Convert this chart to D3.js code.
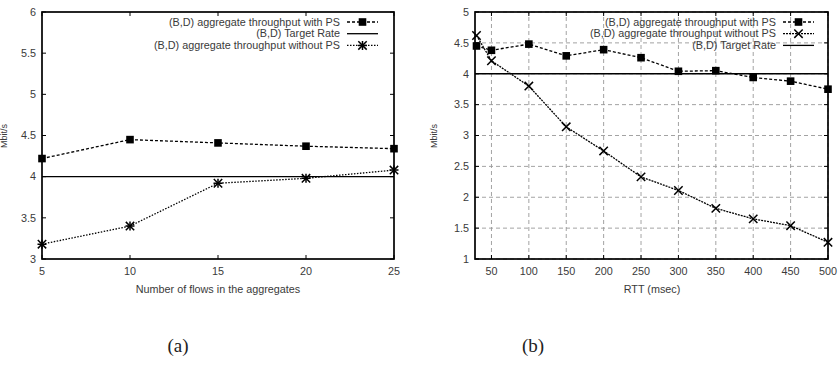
<!DOCTYPE html>
<html>
<head>
<meta charset="utf-8">
<script src="https://cdn.jsdelivr.net/npm/d3@7"></script>
<style>
  body { margin: 0; background: #fff; }
  svg text { font-family: "Liberation Sans", Arial, sans-serif; fill: #3a3a3a; }
  .caption { font-family: "Liberation Serif", serif; fill: #222; }
</style>
</head>
<body>
<svg id="chart" width="839" height="372"></svg>
<script>
// panel (a): throughput vs number of flows
const flows = [5, 10, 15, 20, 25];
const flowsWithPS = [4.22, 4.45, 4.41, 4.37, 4.34];
const flowsWithoutPS = [3.18, 3.40, 3.92, 3.98, 4.08];
const flowsYTicks = [3, 3.5, 4, 4.5, 5, 5.5, 6];

// panel (b): throughput vs RTT
const rtt = [30, 50, 100, 150, 200, 250, 300, 350, 400, 450, 500];
const rttWithPS = [4.45, 4.38, 4.48, 4.29, 4.39, 4.26, 4.04, 4.05, 3.94, 3.88, 3.75];
const rttWithoutPS = [4.62, 4.21, 3.80, 3.14, 2.75, 2.33, 2.11, 1.82, 1.65, 1.54, 1.27];
const rttXTicks = [50, 100, 150, 200, 250, 300, 350, 400, 450, 500];
const rttYTicks = [1, 1.5, 2, 2.5, 3, 3.5, 4, 4.5, 5];

const TARGET_RATE = 4;
const LABEL_WITH = "(B,D) aggregate throughput with PS";
const LABEL_WITHOUT = "(B,D) aggregate throughput without PS";
const LABEL_TARGET = "(B,D) Target Rate";
const FONT = 10.8;

const svg = d3.select("#chart");

// gnuplot style: ticks inward on all four sides
const drawFrame = (g, x, y, xTicks, yTicks) => {
    const [x0, x1] = x.range();
    const [y0, y1] = y.range();
    const tick = 4;
    yTicks.forEach(v => {
        g.append("line").attr("x1", x0).attr("x2", x0 + tick).attr("y1", y(v)).attr("y2", y(v)).attr("stroke", "#000");
        g.append("line").attr("x1", x1).attr("x2", x1 - tick).attr("y1", y(v)).attr("y2", y(v)).attr("stroke", "#000");
        g.append("text").attr("x", x0 - 6).attr("y", y(v)).attr("dy", "0.35em")
            .attr("text-anchor", "end").attr("font-size", FONT).text(v);
    });
    xTicks.forEach(v => {
        g.append("line").attr("x1", x(v)).attr("x2", x(v)).attr("y1", y0).attr("y2", y0 - tick).attr("stroke", "#000");
        g.append("line").attr("x1", x(v)).attr("x2", x(v)).attr("y1", y1).attr("y2", y1 + tick).attr("stroke", "#000");
        g.append("text").attr("x", x(v)).attr("y", y0 + 16)
            .attr("text-anchor", "middle").attr("font-size", FONT).text(v);
    });
    g.append("rect").attr("x", x0).attr("y", y1).attr("width", x1 - x0).attr("height", y0 - y1)
        .attr("fill", "none").attr("stroke", "#000").attr("stroke-width", 1.7);
};

const squareMarker = (g, cx, cy) => {
    g.append("rect").attr("x", cx - 3.8).attr("y", cy - 3.8).attr("width", 7.6).attr("height", 7.6).attr("fill", "#000");
};
const crossMarker = (g, cx, cy) => {
    const s = 4.2;
    g.append("path").attr("d", `M${cx - s},${cy - s}L${cx + s},${cy + s}M${cx - s},${cy + s}L${cx + s},${cy - s}`)
        .attr("stroke", "#000").attr("stroke-width", 1.5);
};
const starMarker = (g, cx, cy) => {
    crossMarker(g, cx, cy);
    const s = 4.5;
    g.append("path").attr("d", `M${cx - s},${cy}L${cx + s},${cy}M${cx},${cy - s}L${cx},${cy + s}`)
        .attr("stroke", "#000").attr("stroke-width", 1.5);
};

const drawSeries = (g, x, y, xs, ys, dash, marker) => {
    const line = d3.line().x(d => x(d[0])).y(d => y(d[1]));
    const pts = xs.map((v, i) => [v, ys[i]]);
    g.append("path").attr("d", line(pts)).attr("fill", "none")
        .attr("stroke", "#000").attr("stroke-width", 1.3).attr("stroke-dasharray", dash);
    pts.forEach(p => marker(g, x(p[0]), y(p[1])));
};

const drawLegend = (g, rightX, rows) => {
    rows.forEach((r, i) => {
        const yy = 22 + i * 11.7;
        g.append("text").attr("x", rightX).attr("y", yy).attr("dy", "0.35em")
            .attr("text-anchor", "end").attr("font-size", FONT).text(r.label);
        g.append("line").attr("x1", rightX + 7).attr("x2", rightX + 38).attr("y1", yy).attr("y2", yy)
            .attr("stroke", "#000").attr("stroke-width", 1.3).attr("stroke-dasharray", r.dash);
        if (r.marker) r.marker(g, rightX + 22.5, yy);
    });
};

// ---------- panel (a)
{
    const g = svg.append("g");
    const x = d3.scaleLinear().domain([5, 25]).range([42, 394]);
    const y = d3.scaleLinear().domain([3, 6]).range([259, 12]);
    drawFrame(g, x, y, flows, flowsYTicks);
    g.append("line").attr("x1", x(5)).attr("x2", x(25)).attr("y1", y(TARGET_RATE)).attr("y2", y(TARGET_RATE))
        .attr("stroke", "#000").attr("stroke-width", 1.3);
    drawSeries(g, x, y, flows, flowsWithPS, "3,2", squareMarker);
    drawSeries(g, x, y, flows, flowsWithoutPS, "1.5,1.5", starMarker);
    drawLegend(g, 340, [
        {label: LABEL_WITH, dash: "3,2", marker: squareMarker},
        {label: LABEL_TARGET, dash: null},
        {label: LABEL_WITHOUT, dash: "1.5,1.5", marker: starMarker}
    ]);
    g.append("text").attr("transform", "translate(7,136) rotate(-90)")
        .attr("text-anchor", "middle").attr("font-size", 9).text("Mbit/s");
    g.append("text").attr("x", 218).attr("y", 293)
        .attr("text-anchor", "middle").attr("font-size", FONT).text("Number of flows in the aggregates");
    g.append("text").attr("class", "caption").attr("x", 178).attr("y", 352)
        .attr("text-anchor", "middle").attr("font-size", 19).text("(a)");
}

// ---------- panel (b)
{
    const g = svg.append("g");
    const x = d3.scaleLinear().domain([28, 500]).range([475, 828]);
    const y = d3.scaleLinear().domain([1, 5]).range([259, 12]);
    // dashed grid
    rttXTicks.forEach(v => g.append("line").attr("x1", x(v)).attr("x2", x(v)).attr("y1", 259).attr("y2", 12)
        .attr("stroke", "#999").attr("stroke-width", 0.9).attr("stroke-dasharray", "4,3"));
    rttYTicks.forEach(v => g.append("line").attr("x1", 475).attr("x2", 828).attr("y1", y(v)).attr("y2", y(v))
        .attr("stroke", "#999").attr("stroke-width", 0.9).attr("stroke-dasharray", "4,3"));
    drawFrame(g, x, y, rttXTicks, rttYTicks);
    g.append("line").attr("x1", 475).attr("x2", 828).attr("y1", y(TARGET_RATE)).attr("y2", y(TARGET_RATE))
        .attr("stroke", "#000").attr("stroke-width", 1.3);
    drawSeries(g, x, y, rtt, rttWithPS, "3,2", squareMarker);
    drawSeries(g, x, y, rtt, rttWithoutPS, "2,1", crossMarker);
    drawLegend(g, 776, [
        {label: LABEL_WITH, dash: "3,2", marker: squareMarker},
        {label: LABEL_WITHOUT, dash: "2,1", marker: crossMarker},
        {label: LABEL_TARGET, dash: null}
    ]);
    g.append("text").attr("transform", "translate(437,136) rotate(-90)")
        .attr("text-anchor", "middle").attr("font-size", 9).text("Mbit/s");
    g.append("text").attr("x", 652).attr("y", 293)
        .attr("text-anchor", "middle").attr("font-size", FONT).text("RTT (msec)");
    g.append("text").attr("class", "caption").attr("x", 533).attr("y", 352)
        .attr("text-anchor", "middle").attr("font-size", 19).text("(b)");
}
</script>
</body>
</html>
